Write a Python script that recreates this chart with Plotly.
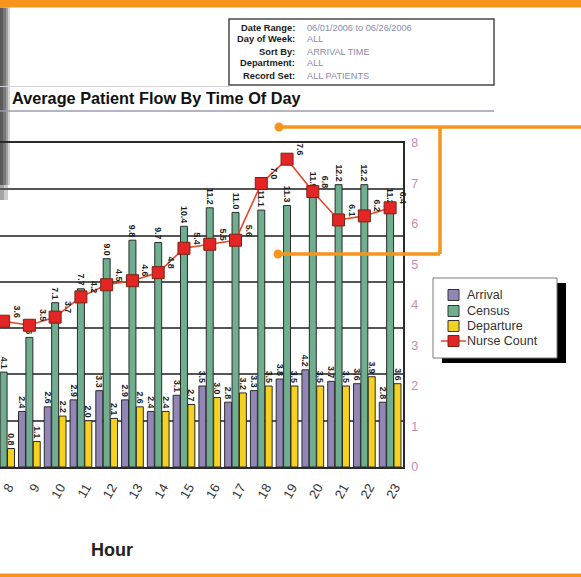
import plotly.graph_objects as go

# ---------------- data ----------------
hours = [8, 9, 10, 11, 12, 13, 14, 15, 16, 17, 18, 19, 20, 21, 22, 23]
hour_labels = [str(h) for h in hours]
arrival = [None, 2.4, 2.6, 2.9, 3.3, 2.9, 2.4, 3.1, 3.5, 2.8, 3.3, 3.8, 4.2, 3.7, 3.6, 2.8]
census = [4.1, 5.6, 7.1, 7.7, 9.0, 9.8, 9.7, 10.4, 11.2, 11.0, 11.1, 11.3, 11.9, 12.2, 12.2, 11.2]
departure = [0.8, 1.1, 2.2, 2.0, 2.1, 2.6, 2.4, 2.7, 3.0, 3.2, 3.5, 3.5, 3.5, 3.5, 3.9, 3.6]
nurse = [3.6, 3.5, 3.7, 4.2, 4.5, 4.6, 4.8, 5.4, 5.5, 5.6, 7.0, 7.6, 6.8, 6.1, 6.2, 6.4]
right_ticks = [0, 1, 2, 3, 4, 5, 6, 7, 8]

info_labels = ["Date Range:", "Day of Week:", "Sort By:", "Department:", "Record Set:"]
info_values = ["06/01/2006 to 06/26/2006", "ALL", "ARRIVAL TIME", "ALL", "ALL PATIENTS"]

series_names = ["Arrival", "Census", "Departure", "Nurse Count"]
colors = {"Arrival": "#9186b6", "Census": "#6fae8f", "Departure": "#f6d21e", "Nurse Count": "#e42525"}

W, H = 581, 577
FONT = "Liberation Sans"
ORANGE = "#f7941d"


def fx(x):
    return x / W


def fy(y):
    return 1 - y / H


fig = go.Figure()

bar_line = dict(color="#2b2b2b", width=1)
for name, vals in [("Arrival", arrival), ("Census", census), ("Departure", departure)]:
    fig.add_bar(
        x=hours, y=vals, name=name,
        marker=dict(color=colors[name], line=bar_line),
        text=[("<b>%.1f</b>" % v) if v is not None else "" for v in vals],
        textposition="outside", textangle=90, constraintext="none",
        textfont=dict(family=FONT, size=8.8, color="#1a1a1a"),
        cliponaxis=True, showlegend=False,
    )

fig.add_scatter(
    x=hours, y=nurse, yaxis="y2", name="Nurse Count", mode="lines+markers",
    line=dict(color="#e8462a", width=1.6),
    marker=dict(symbol="square", size=12, color=colors["Nurse Count"],
                line=dict(color="#7a2410", width=1)),
    showlegend=False, cliponaxis=False,
)

annotations = []
for h, v in zip(hours, nurse):
    annotations.append(dict(
        x=h, y=v, xref="x", yref="y2", text="<b>%.1f</b>" % v, textangle=90,
        showarrow=False, xshift=13, yshift=10,
        font=dict(family=FONT, size=8.8, color="#1a1a1a"),
    ))

# title and info box text
annotations.append(dict(
    x=fx(10), y=fy(98), xref="paper", yref="paper", xanchor="left", yanchor="middle",
    text="<b>Average Patient Flow By Time Of Day</b>", showarrow=False,
    font=dict(family=FONT, size=16.3, color="#111111"),
))
for i, (lab, val) in enumerate(zip(info_labels, info_values)):
    yy = 27.5 + i * 12
    annotations.append(dict(
        x=fx(297), y=fy(yy), xref="paper", yref="paper", xanchor="right", yanchor="middle",
        text="<b>%s</b>" % lab, showarrow=False,
        font=dict(family=FONT, size=9.3, color="#1a1a1a"),
    ))
    annotations.append(dict(
        x=fx(305), y=fy(yy), xref="paper", yref="paper", xanchor="left", yanchor="middle",
        text=val, showarrow=False,
        font=dict(family=FONT, size=9.2, color="#8a8aac"),
    ))

annotations.append(dict(
    x=fx(112), y=fy(550), xref="paper", yref="paper", xanchor="center", yanchor="middle",
    text="<b>Hour</b>", showarrow=False,
    font=dict(family=FONT, size=18, color="#222222"),
))

# legend (drawn manually)
leg_y = [295, 311, 326, 341]
for name, yy in zip(series_names, leg_y):
    annotations.append(dict(
        x=fx(465), y=fy(yy), xref="paper", yref="paper", xanchor="left", yanchor="middle",
        text=name, showarrow=False,
        font=dict(family=FONT, size=12.5, color="#333333"),
    ))

shapes = []
# orange frame bits
shapes.append(dict(type="rect", xref="paper", yref="paper", x0=0, x1=1, y0=fy(7.5), y1=1,
                   fillcolor=ORANGE, line=dict(width=0), layer="above"))
shapes.append(dict(type="rect", xref="paper", yref="paper", x0=0, x1=1, y0=0, y1=fy(573.5),
                   fillcolor=ORANGE, line=dict(width=0), layer="above"))
# page-edge shadow on the left
for x0, x1, c in [(0, 3, "#5a5a5a"), (3, 6, "#787878"), (6, 8, "#a0a0a0"), (8, 10, "#d4d4d4")]:
    shapes.append(dict(type="rect", xref="paper", yref="paper", x0=fx(x0), x1=fx(x1),
                       y0=fy(185), y1=fy(7.5), fillcolor=c, line=dict(width=0), layer="below"))
for x0, x1, c in [(0, 4, "#a4a4a4"), (4, 8, "#cccccc")]:
    shapes.append(dict(type="rect", xref="paper", yref="paper", x0=fx(x0), x1=fx(x1),
                       y0=fy(200), y1=fy(185), fillcolor=c, line=dict(width=0), layer="below"))
# info box
shapes.append(dict(type="rect", xref="paper", yref="paper", x0=fx(229), x1=fx(494),
                   y0=fy(85), y1=fy(19), line=dict(color="#4a4a4a", width=1.5)))
# faint line and title underline
shapes.append(dict(type="line", xref="paper", yref="paper", x0=0, x1=fx(229),
                   y0=fy(86.5), y1=fy(86.5), line=dict(color="#d2d2d8", width=1)))
shapes.append(dict(type="line", xref="paper", yref="paper", x0=0, x1=fx(494),
                   y0=fy(111), y1=fy(111), line=dict(color="#9a9aae", width=1.5)))
# legend box with shadow
shapes.append(dict(type="rect", xref="paper", yref="paper", x0=fx(442), x1=fx(566),
                   y0=fy(363), y1=fy(283), fillcolor="#000000", line=dict(width=0)))
shapes.append(dict(type="rect", xref="paper", yref="paper", x0=fx(433), x1=fx(557),
                   y0=fy(358), y1=fy(278), fillcolor="#ffffff", line=dict(color="#7a7a7a", width=1)))
for name, yy in zip(series_names[:3], leg_y[:3]):
    shapes.append(dict(type="rect", xref="paper", yref="paper", x0=fx(448), x1=fx(459),
                       y0=fy(yy + 5.5), y1=fy(yy - 5.5), fillcolor=colors[name],
                       line=dict(color="#333333", width=1)))
shapes.append(dict(type="line", xref="paper", yref="paper", x0=fx(441), x1=fx(466),
                   y0=fy(leg_y[3]), y1=fy(leg_y[3]), line=dict(color="#e8462a", width=1.5)))
shapes.append(dict(type="rect", xref="paper", yref="paper", x0=fx(448), x1=fx(459),
                   y0=fy(leg_y[3] + 5.5), y1=fy(leg_y[3] - 5.5), fillcolor=colors["Nurse Count"],
                   line=dict(color="#7a2410", width=1)))
# orange callout bracket
ol = dict(color=ORANGE, width=3.5)
shapes.append(dict(type="line", xref="paper", yref="paper", x0=fx(279), x1=1,
                   y0=fy(127), y1=fy(127), line=ol, layer="above"))
shapes.append(dict(type="line", xref="paper", yref="paper", x0=fx(440), x1=fx(440),
                   y0=fy(127), y1=fy(254), line=ol, layer="above"))
shapes.append(dict(type="line", xref="paper", yref="paper", x0=fx(278), x1=fx(440),
                   y0=fy(254), y1=fy(254), line=ol, layer="above"))
for cx, cy in [(279, 127), (278, 254)]:
    shapes.append(dict(type="circle", xref="paper", yref="paper", x0=fx(cx - 4.5), x1=fx(cx + 4.5),
                       y0=fy(cy + 4.5), y1=fy(cy - 4.5), fillcolor=ORANGE, line=dict(width=0),
                       layer="above"))

fig.update_layout(
    template="none",
    width=W, height=H,
    margin=dict(l=0, r=0, t=0, b=0),
    paper_bgcolor="#ffffff", plot_bgcolor="rgba(0,0,0,0)",
    barmode="group", bargap=0.14, bargroupgap=0.06,
    showlegend=False,
    font=dict(family=FONT),
    xaxis=dict(
        domain=[0, fx(403)], range=[7.86, 23.5], automargin=False,
        tickmode="array", tickvals=hours, ticktext=hour_labels,
        tickangle=-60, tickfont=dict(family=FONT, size=13, color="#333333"),
        ticks="", ticklabelstandoff=6, ticklabelshift=5, ticklabeloverflow="allow",
        showgrid=False, zeroline=False,
        showline=True, linecolor="#2a2a2a", linewidth=1.5, mirror=True,
    ),
    yaxis=dict(
        domain=[fy(467), fy(143)], range=[0, 14], dtick=2, automargin=False,
        showticklabels=False, ticks="",
        showgrid=True, gridcolor="#555555", gridwidth=1.5, zeroline=False, showline=False,
    ),
    yaxis2=dict(
        overlaying="y", side="right", range=[0, 8], automargin=False,
        tickmode="array", tickvals=right_ticks, ticktext=[str(t) for t in right_ticks],
        tickfont=dict(family=FONT, size=12.5, color="#c48db6"),
        ticks="", ticklabelstandoff=4,
        showgrid=False, zeroline=False,
        showline=True, linecolor="#2a2a2a", linewidth=1.5,
    ),
    shapes=shapes,
    annotations=annotations,
)

fig.write_html(
    "out.html",
    config={"displayModeBar": False},
    post_script="document.body.style.margin='0';document.body.style.overflow='hidden';",
)
